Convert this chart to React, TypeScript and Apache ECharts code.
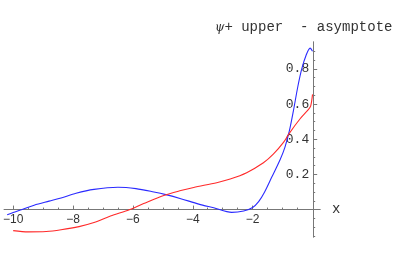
import React, { useEffect, useRef } from "react";
import * as echarts from "echarts";

const blueX = [-10.2, -10, -9.7, -9.3, -8.8, -8.4, -7.9, -7.3, -6.5, -5.9, -5.3, -4.9, -4.4, -3.8, -3.3, -2.7, -2.3, -2.0, -1.8, -1.6, -1.36, -1.08, -0.92, -0.77, -0.64, -0.49, -0.36, -0.22, -0.08, 0];
const blueY = [-0.03, -0.017, 0, 0.025, 0.048, 0.066, 0.093, 0.115, 0.127, 0.119, 0.1, 0.085, 0.062, 0.031, 0.01, -0.016, -0.008, 0.012, 0.045, 0.1, 0.185, 0.285, 0.355, 0.45, 0.56, 0.7, 0.8, 0.875, 0.918, 0.9];

const redX = [-10, -9.5, -8.9, -8.4, -7.8, -7.3, -6.75, -6.1, -5.64, -4.97, -4.4, -3.97, -3.2, -2.75, -2.2, -1.64, -1.31, -0.97, -0.77, -0.42, -0.14, -0.06, 0];
const redY = [-0.12, -0.127, -0.125, -0.115, -0.097, -0.074, -0.037, 0, 0.034, 0.08, 0.108, 0.126, 0.153, 0.174, 0.21, 0.266, 0.315, 0.382, 0.435, 0.515, 0.568, 0.59, 0.655];

const xMajorTicks = [-10, -8, -6, -4, -2];
const xMinorTicks = [-10, -9.5, -9, -8.5, -8, -7.5, -7, -6.5, -6, -5.5, -5, -4.5, -4, -3.5, -3, -2.5, -2, -1.5, -1, -0.5];
const yMajorTicks = [0.2, 0.4, 0.6, 0.8];
const yMinorTicks = [-0.15, -0.1, -0.05, 0.05, 0.1, 0.15, 0.2, 0.25, 0.3, 0.35, 0.4, 0.45, 0.5, 0.55, 0.6, 0.65, 0.7, 0.75, 0.8, 0.85, 0.9];

const titleText = "+ upper  - asymptote";
const xName = "x";

const AXIS = "#777";
const TEXT = "#333";

export default function App() {
  const ref = useRef<HTMLDivElement>(null);
  useEffect(() => {
    if (!ref.current) return;
    const chart = echarts.init(ref.current, null, { renderer: "svg" });
    const X = [-10.3, 0.25];
    const Y = [-0.156, 0.953];
    const gridLeft = 3.5, gridW = 316.5, gridTop = 42, gridH = 195;
    // place axes at the zero of the other axis
    const yOffset = -((0 - X[0]) / (X[1] - X[0])) * gridW;
    const xOffset = -((0 - Y[0]) / (Y[1] - Y[0])) * gridH;
    chart.setOption({
      animation: false,
      grid: { left: gridLeft, top: gridTop, width: gridW, height: gridH, containLabel: false },
      xAxis: [
        {
          type: "value", min: X[0], max: X[1], position: "bottom", offset: xOffset,
          axisLine: { onZero: false, lineStyle: { color: AXIS, width: 1 } },
          axisTick: { show: true, inside: true, length: 4, customValues: xMajorTicks, lineStyle: { color: AXIS } },
          axisLabel: {
            show: true, customValues: xMajorTicks, margin: 3,
            fontFamily: "Liberation Sans", fontSize: 12, color: TEXT,
            formatter: (v: number) => (v < 0 ? "\u2212" + Math.abs(v) : String(v)),
          },
          splitLine: { show: false },
        },
        {
          type: "value", min: X[0], max: X[1], position: "bottom", offset: xOffset,
          axisLine: { onZero: false, lineStyle: { color: AXIS, width: 1 } },
          axisTick: { show: true, inside: true, length: 2, customValues: xMinorTicks, lineStyle: { color: AXIS } },
          axisLabel: { show: false },
          splitLine: { show: false },
        },
      ],
      yAxis: [
        {
          type: "value", min: Y[0], max: Y[1], position: "left", offset: yOffset,
          axisLine: { onZero: false, lineStyle: { color: AXIS, width: 1 } },
          axisTick: { show: true, inside: true, length: 4, customValues: yMajorTicks, lineStyle: { color: AXIS } },
          axisLabel: {
            show: true, customValues: yMajorTicks, margin: 4,
            fontFamily: "Liberation Mono", fontSize: 13, color: TEXT,
            formatter: (v: number) => v.toFixed(1),
          },
          splitLine: { show: false },
        },
        {
          type: "value", min: Y[0], max: Y[1], position: "left", offset: yOffset,
          axisLine: { onZero: false, lineStyle: { color: AXIS, width: 1 } },
          axisTick: { show: true, inside: true, length: 2, customValues: yMinorTicks, lineStyle: { color: AXIS } },
          axisLabel: { show: false },
          splitLine: { show: false },
        },
      ],
      series: [
        {
          type: "line", xAxisIndex: 0, yAxisIndex: 0, showSymbol: false, symbol: "none",
          smooth: 0.3,
          lineStyle: { color: "#2a2aff", width: 1.1 },
          data: blueX.map((x, i) => [x, blueY[i]]),
        },
        {
          type: "line", xAxisIndex: 0, yAxisIndex: 0, showSymbol: false, symbol: "none",
          smooth: 0.3,
          lineStyle: { color: "#ff2a2a", width: 1.1 },
          data: redX.map((x, i) => [x, redY[i]]),
        },
      ],
      graphic: [
        {
          type: "text", x: 215, y: 27,
          style: {
            text: "{a|\u03c8}{b|" + titleText + "}",
            verticalAlign: "middle",
            rich: {
              a: { fontFamily: "DejaVu Serif", fontStyle: "italic", fontSize: 12, fill: TEXT, color: TEXT },
              b: { fontFamily: "Liberation Mono", fontSize: 14, fill: TEXT, color: TEXT },
            },
          },
        },
        {
          type: "text", x: 332, y: 209,
          style: { text: xName, fontFamily: "Liberation Mono", fontSize: 14, fill: TEXT, verticalAlign: "middle" },
        },
      ],
    });
    return () => chart.dispose();
  }, []);
  return <div ref={ref} style={{ position: "fixed", left: 0, top: 0, width: 415, height: 257 }} />;
}
